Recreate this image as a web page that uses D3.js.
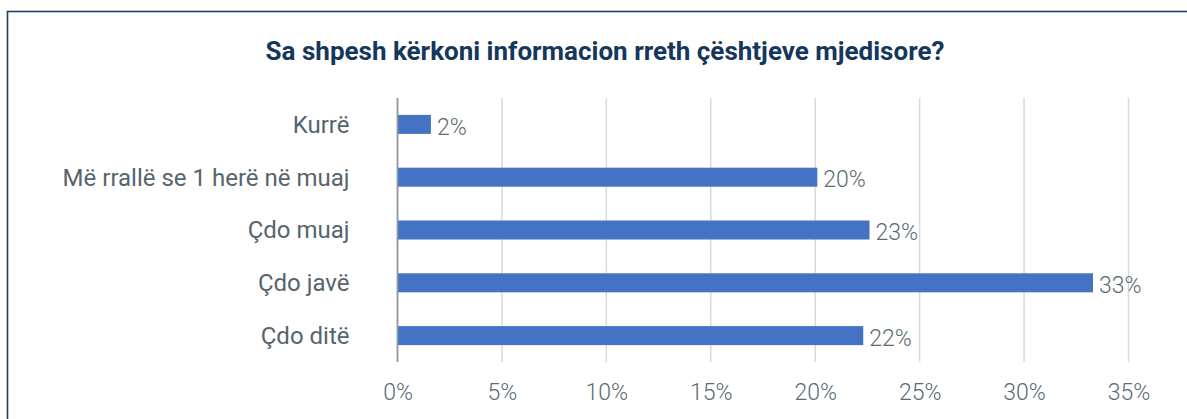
<!DOCTYPE html>
<html>
<head>
<meta charset="utf-8">
<script src="https://cdn.jsdelivr.net/npm/d3@7"></script>
<style>
  html, body { margin: 0; padding: 0; background: #fff; }
  svg { display: block; }
</style>
</head>
<body>
<script>
const title = "Sa shpesh kërkoni informacion rreth çështjeve mjedisore?";
const categories = ["Kurrë", "Më rrallë se 1 herë në muaj", "Çdo muaj", "Çdo javë", "Çdo ditë"];
const values = [0.016, 0.201, 0.226, 0.333, 0.223];
const tickValues = [0, 0.05, 0.10, 0.15, 0.20, 0.25, 0.30, 0.35];

const W = 1187, H = 419;
const svg = d3.select("body").append("svg").attr("width", W).attr("height", H);

// frame
svg.append("rect")
  .attr("x", 7.5).attr("y", 11.5)
  .attr("width", 1200).attr("height", 500)
  .attr("fill", "#fff").attr("stroke", "#1b3f66").attr("stroke-width", 1.6);

svg.append("text")
  .attr("x", 605).attr("y", 60)
  .attr("text-anchor", "middle")
  .attr("font-family", "Roboto, 'Noto Sans', sans-serif")
  .attr("font-weight", 700)
  .attr("font-size", 26)
  .attr("fill", "#15375c")
  .text(title);

const x = d3.scaleLinear().domain([0, 0.35]).range([397.5, 1128.5]);
const y = d3.scaleBand().domain(categories).range([98, 362]).paddingInner(0.64).paddingOuter(0.32);

// gridlines
svg.append("g").selectAll("line")
  .data(tickValues.filter(d => d > 0))
  .join("line")
  .attr("x1", d => x(d)).attr("x2", d => x(d))
  .attr("y1", 98).attr("y2", 362)
  .attr("stroke", "#d9d9d9").attr("stroke-width", 1.5);

// bars
svg.append("g").selectAll("rect")
  .data(categories.map((c, i) => ({c, v: values[i]})))
  .join("rect")
  .attr("x", x(0))
  .attr("y", d => y(d.c))
  .attr("width", d => x(d.v) - x(0))
  .attr("height", y.bandwidth())
  .attr("fill", "#4472c4");

// value labels
const fmt = d3.format(".0%");
svg.append("g").selectAll("text")
  .data(categories.map((c, i) => ({c, v: values[i]})))
  .join("text")
  .attr("x", d => x(d.v) + 6)
  .attr("y", d => y(d.c) + y.bandwidth() / 2 + 2)
  .attr("dy", "0.36em")
  .attr("font-family", "Roboto, 'Noto Sans', sans-serif")
  .attr("font-weight", 300)
  .attr("font-size", 23)
  .attr("fill", "#5b6a73")
  .text(d => fmt(d.v));

// y axis (category labels)
const yAxis = d3.axisLeft(y).tickSize(0).tickPadding(48);
const gy = svg.append("g").attr("transform", `translate(${x(0)},0)`).call(yAxis);
gy.select(".domain").remove();
gy.selectAll("text")
  .attr("font-family", "Roboto, 'Noto Sans', sans-serif")
  .attr("font-size", 24)
  .attr("fill", "#56646d")
  .attr("dy", "0.35em");
svg.append("line")
  .attr("x1", x(0)).attr("x2", x(0)).attr("y1", 98).attr("y2", 362)
  .attr("stroke", "#8c979e").attr("stroke-width", 1.8);

// x axis
const xAxis = d3.axisBottom(x).tickValues(tickValues).tickFormat(d3.format(".0%")).tickSize(0).tickPadding(22);
const gx = svg.append("g").attr("transform", `translate(0,362)`).call(xAxis);
gx.select(".domain").remove();
gx.selectAll("text")
  .attr("font-family", "Roboto, 'Noto Sans', sans-serif")
  .attr("font-weight", 300)
  .attr("font-size", 23)
  .attr("fill", "#5b6a73");
</script>
</body>
</html>
